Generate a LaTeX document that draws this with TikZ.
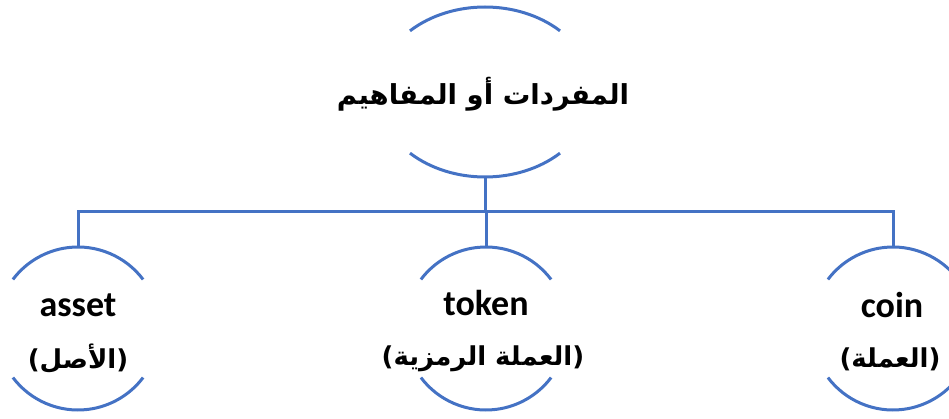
\documentclass[tikz,border=0pt]{standalone}
\usepackage{fontspec}
\setmainfont{Carlito}
\newfontfamily\arabicfont[Script=Arabic]{DejaVu Sans}
\TeXXeTstate=1
\definecolor{linkblue}{RGB}{68,114,196}
\usetikzlibrary{shapes.geometric}
\begin{document}
\begin{tikzpicture}[x=1pt,y=1pt,
  conn/.style={draw=linkblue,line width=3pt},
  arcline/.style={draw=linkblue,line width=3pt},
  rootshape/.style={ellipse,draw=none,minimum width=216pt,minimum height=170pt,inner sep=0pt},
  childshape/.style={circle,draw=none,minimum size=163pt,inner sep=0pt},
  titletext/.style={font=\arabicfont\bfseries\fontsize{27.5}{32}\selectfont,inner sep=0pt},
  entext/.style={font=\bfseries\fontsize{36}{42}\selectfont,inner sep=0pt},
  artext/.style={font=\arabicfont\bfseries\fontsize{26}{32}\selectfont,inner sep=0pt}
]
\useasboundingbox (0,0) rectangle (949,-419);
\clip (0,0) rectangle (949,-419);

% root
\node[rootshape] (root) at (485,-92) {};
\node[titletext] (roottext) at (483,-94) {\beginR المفردات أو المفاهيم\endR};
\draw[arcline] ([shift={(46:108 and 85)}]root.center) arc[start angle=46,end angle=134,x radius=108,y radius=85];
\draw[arcline] ([shift={(226:108 and 85)}]root.center) arc[start angle=226,end angle=314,x radius=108,y radius=85];

% children
\node[childshape] (asset) at (78,-328.5) {};
\node[childshape] (token) at (486,-328.5) {};
\node[childshape] (coin) at (893,-328.5) {};

\foreach \n in {asset,token,coin}{
  \draw[arcline] ([shift={(37:81.5)}]\n.center) arc[start angle=37,end angle=143,radius=81.5];
  \draw[arcline] ([shift={(217:81.5)}]\n.center) arc[start angle=217,end angle=323,radius=81.5];
}

\node[entext] (assetA) at (78,-305) {asset};
\node[artext] (assetB) at (78,-359) {)\beginR الأصل\endR(};
\node[entext] (tokenA) at (486,-303) {token};
\node[artext] (tokenB) at (483,-359) {)\beginR العملة الرمزية\endR(};
\node[entext] (coinA) at (892,-305) {coin};
\node[artext] (coinB) at (890,-359) {)\beginR العملة\endR(};

% connectors
\coordinate (bus) at (485,-212);
\draw[conn] (root.south) -- (bus);
\draw[conn] (asset.north) |- (coin.north |- bus) -- (coin.north);
\draw[conn] (token.north) -- (token.north |- bus);
\end{tikzpicture}
\end{document}
